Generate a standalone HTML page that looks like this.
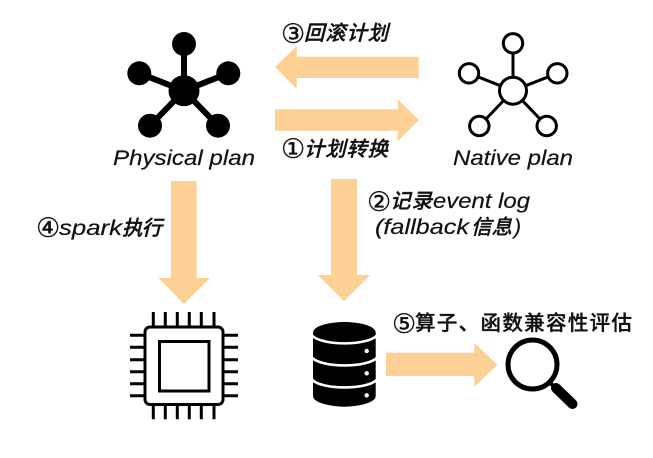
<!DOCTYPE html>
<html>
<head>
<meta charset="utf-8">
<style>
html,body{margin:0;padding:0;background:#fff;width:653px;height:458px;overflow:hidden}
svg{display:block}
text{fill:#111;font-style:italic}
.c{font-family:"Noto Sans CJK SC",sans-serif;font-size:20.5px;font-weight:500;stroke:#111;stroke-width:.35}
.u{font-style:normal}
.l{font-family:"Liberation Sans",sans-serif;font-size:21px;stroke:#111;stroke-width:.2}
.n{font-family:"DejaVu Sans",sans-serif;font-style:normal;font-size:27px;stroke:#111;stroke-width:.3}
</style>
</head>
<body>
<svg width="653" height="458" viewBox="0 0 653 458" xmlns="http://www.w3.org/2000/svg">
<rect width="653" height="458" fill="#fff"/>

<!-- arrows -->
<g fill="#fdd095">
<polygon points="275,67.3 296.7,46 296.7,56.7 418.7,56.7 418.7,78 296.7,78 296.7,88.7"/>
<polygon points="419,120 397.7,99.3 397.7,109.3 275,109.3 275,130.7 397.7,130.7 397.7,141.3"/>
<polygon points="171,181 196.7,181 196.7,278 210,278 184,304 158.3,278 171,278"/>
<polygon points="331,179 357,179 357,275 370,275 344,301 318,275 331,275"/>
<polygon points="386,352.7 474.3,352.7 474.3,342.7 497.3,364.7 474.3,386.7 474.3,376 386,376"/>
</g>

<!-- physical plan icon -->
<g stroke="#000" stroke-width="6">
<line x1="184" y1="90.7" x2="184" y2="44"/>
<line x1="184" y1="90.7" x2="139.3" y2="73.3"/>
<line x1="184" y1="90.7" x2="228.3" y2="73.3"/>
<line x1="184" y1="90.7" x2="150" y2="125.7"/>
<line x1="184" y1="90.7" x2="218" y2="125.7"/>
</g>
<g fill="#000">
<circle cx="184" cy="90.7" r="15.5"/>
<circle cx="184" cy="44" r="12"/>
<circle cx="139.3" cy="73.3" r="12"/>
<circle cx="228.3" cy="73.3" r="12"/>
<circle cx="150" cy="125.7" r="12"/>
<circle cx="218" cy="125.7" r="12"/>
</g>

<!-- native plan icon -->
<g stroke="#000" stroke-width="3">
<line x1="513" y1="90.7" x2="513" y2="43.3"/>
<line x1="513" y1="90.7" x2="469" y2="73.3"/>
<line x1="513" y1="90.7" x2="557.3" y2="73.3"/>
<line x1="513" y1="90.7" x2="479.3" y2="126"/>
<line x1="513" y1="90.7" x2="546.7" y2="126"/>
</g>
<g fill="#fff" stroke="#000" stroke-width="3">
<circle cx="513" cy="90.7" r="13.5"/>
<circle cx="513" cy="43.3" r="9.7"/>
<circle cx="469" cy="73.3" r="9.7"/>
<circle cx="557.3" cy="73.3" r="9.7"/>
<circle cx="479.3" cy="126" r="9.7"/>
<circle cx="546.7" cy="126" r="9.7"/>
</g>

<!-- chip -->
<g stroke="#000" stroke-width="3" fill="none">
<path d="M153.3 312V327M165.3 312V327M177.3 312V327M189.3 312V327M201.3 312V327M214 312V327"/>
<path d="M153.3 405V419.3M165.3 405V419.3M177.3 405V419.3M189.3 405V419.3M201.3 405V419.3M214 405V419.3"/>
<path d="M130 335.3H145M130 347.3H145M130 359.7H145M130 371.7H145M130 383.7H145M130 395.7H145"/>
<path d="M223 335.3H238M223 347.3H238M223 359.7H238M223 371.7H238M223 383.7H238M223 395.7H238"/>
<rect x="145" y="327" width="78" height="77.5" rx="5"/>
<rect x="159.5" y="341.5" width="49.5" height="49.5"/>
</g>

<!-- database -->
<path d="M313 333C313 325 332 322 344.3 322C357 322 375.7 325 375.7 333V396C375.7 403 357 406.7 344.3 406.7C332 406.7 313 403 313 396Z" fill="#000"/>
<g fill="none" stroke="#fff" stroke-width="2.6">
<path d="M312 335.5C322 346 367 346 377 335.5"/>
<path d="M312 357.7C322 368 367 368 377 357.7"/>
<path d="M312 379.7C322 390 367 390 377 379.7"/>
</g>
<g fill="#fff">
<circle cx="366.7" cy="351" r="2.2"/>
<circle cx="366.7" cy="373.3" r="2.2"/>
<circle cx="366.7" cy="395.3" r="2.2"/>
</g>

<!-- magnifier -->
<circle cx="532.5" cy="364.5" r="24.5" fill="none" stroke="#000" stroke-width="5"/>
<line x1="549" y1="382" x2="558" y2="390" stroke="#000" stroke-width="4"/>
<line x1="556" y1="388" x2="572.5" y2="404" stroke="#000" stroke-width="10" stroke-linecap="round"/>

<!-- labels -->
<text class="l" x="113" y="165" textLength="142" lengthAdjust="spacingAndGlyphs">Physical plan</text>
<text class="l" x="453" y="165" textLength="120" lengthAdjust="spacingAndGlyphs">Native plan</text>

<text class="n" x="281" y="43">③</text>
<text class="c" x="304" y="40" textLength="84" lengthAdjust="spacing">回滚计划</text>

<text class="n" x="281" y="158">①</text>
<text class="c" x="304" y="156" textLength="84" lengthAdjust="spacing">计划转换</text>

<text class="n" x="367" y="211">②</text>
<text class="c" x="390" y="208" textLength="42" lengthAdjust="spacing">记录</text>
<text class="l" x="433" y="208" textLength="97" lengthAdjust="spacingAndGlyphs">event log</text>

<text class="l" x="375" y="234" textLength="94" lengthAdjust="spacingAndGlyphs">(fallback</text>
<text class="c" x="471" y="234" textLength="41" lengthAdjust="spacing">信息</text>
<text class="l" x="514" y="234">)</text>

<text class="n" x="36" y="237">④</text>
<text class="l" x="59" y="235" textLength="63" lengthAdjust="spacingAndGlyphs">spark</text>
<text class="c" x="122" y="235" textLength="40" lengthAdjust="spacing">执行</text>

<text class="n" x="392" y="333">⑤</text>
<text class="c u" x="415" y="330" textLength="217" lengthAdjust="spacing">算子、函数兼容性评估</text>
</svg>
</body>
</html>
